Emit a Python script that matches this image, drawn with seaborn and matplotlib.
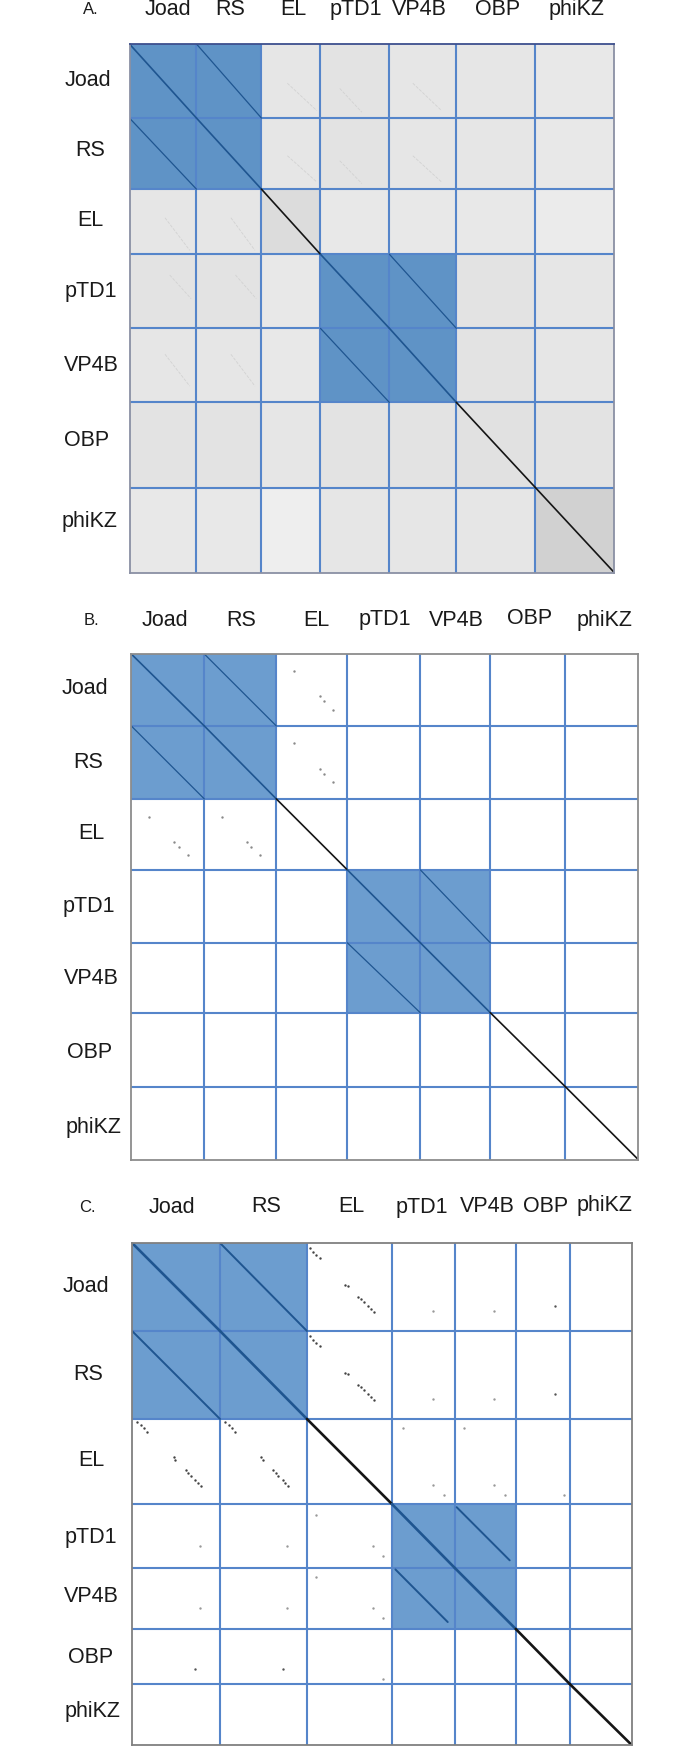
import numpy as np
import matplotlib
matplotlib.use('Agg')
import matplotlib.pyplot as plt
from matplotlib.colors import ListedColormap
import seaborn as sns

phages = ['Joad', 'RS', 'EL', 'pTD1', 'VP4B', 'OBP', 'phiKZ']

# block sizes, one list for columns and one for rows
a_cols = [67, 65, 59, 69, 67, 79, 79]
a_rows = [74, 71, 65, 74, 74, 85, 85]
b_cols = [73, 72, 71, 73, 70, 75, 73]
b_rows = [72, 73, 71, 73, 70, 74, 73]
c_cols = [88, 87, 85, 63, 61, 54, 62]
c_rows = [88, 88, 85, 64, 61, 55, 61]

# background darkness of each block in panel A (0 = white)
a_density = [
    [0.00, 0.00, 0.10, 0.11, 0.10, 0.10, 0.09],
    [0.00, 0.00, 0.10, 0.11, 0.10, 0.10, 0.09],
    [0.10, 0.10, 0.14, 0.09, 0.09, 0.09, 0.08],
    [0.11, 0.11, 0.09, 0.00, 0.00, 0.11, 0.10],
    [0.10, 0.10, 0.09, 0.00, 0.00, 0.11, 0.10],
    [0.11, 0.11, 0.10, 0.11, 0.11, 0.12, 0.11],
    [0.09, 0.09, 0.07, 0.10, 0.10, 0.10, 0.18],
]

# blocks that share one cluster
clusters = [['Joad', 'RS'], ['pTD1', 'VP4B']]

# faint alignments in panel A: first phage, second phage, start and end on each
a_faint_first = ['Joad', 'RS', 'Joad', 'RS', 'Joad', 'RS']
a_faint_second = ['EL', 'EL', 'pTD1', 'pTD1', 'VP4B', 'VP4B']
a_faint_first_span = [(0.53, 0.90), (0.53, 0.90), (0.60, 0.92), (0.60, 0.92), (0.53, 0.90), (0.53, 0.90)]
a_faint_second_span = [(0.44, 0.94), (0.44, 0.94), (0.28, 0.60), (0.28, 0.60), (0.35, 0.78), (0.35, 0.78)]

# matching spots, positions are fractions along each genome
b_joad_el_joad = [0.24, 0.59, 0.655, 0.775]
b_joad_el_el = [0.25, 0.61, 0.675, 0.795]

c_joad_el_joad = [0.06, 0.10, 0.14, 0.17, 0.475, 0.49, 0.61, 0.64, 0.67, 0.72, 0.75, 0.78]
c_joad_el_el = [0.03, 0.07, 0.11, 0.15, 0.45, 0.48, 0.60, 0.635, 0.67, 0.715, 0.75, 0.785]
c_joad_other_joad = [0.775, 0.775, 0.72]
c_joad_other_phage = ['pTD1', 'VP4B', 'OBP']
c_joad_other_pos = [0.66, 0.65, 0.72]
c_el_ptd1_el = [0.11, 0.775, 0.89]
c_el_ptd1_ptd1 = [0.17, 0.66, 0.82]
c_el_vp4b_el = [0.11, 0.775, 0.89]
c_el_vp4b_vp4b = [0.147, 0.65, 0.82]
c_el_obp_el = [0.89]
c_el_obp_obp = [0.90]

sns.set_theme(style='white')
plt.rcParams['font.family'] = ['Liberation Sans', 'DejaVu Sans']

W, H = 700, 1748
fig = plt.figure(figsize=(W / 100, H / 100), dpi=100)

GRID = '#5585ca'
BLACK = '#151515'
DARK_BLUE = '#1f5590'


def px_axes(left, top, right, bottom):
    return fig.add_axes([left / W, 1 - bottom / H, (right - left) / W, (bottom - top) / H])


def label(x, y, s, size=15.5):
    fig.text(x / W, 1 - y / H, s, ha='center', va='center', fontsize=size, color='#1a1a1a')


def draw_panel(ax, cols, rows, density, blue, border, diag_lw, off_lw, off_spans=None):
    """Heatmap of the blocks, with block sizes given by repeating the cells."""
    density = np.repeat(np.repeat(np.array(density), rows, axis=0), cols, axis=1)
    shared = np.zeros((7, 7))
    for group in clusters:
        for p in group:
            for q in group:
                shared[phages.index(p), phages.index(q)] = 1
    shared_big = np.repeat(np.repeat(shared, rows, axis=0), cols, axis=1)

    sns.heatmap(density, ax=ax, cmap='gray_r', vmin=0, vmax=1, cbar=False,
                xticklabels=False, yticklabels=False)
    sns.heatmap(shared_big, ax=ax, mask=shared_big == 0, cmap=ListedColormap([blue]),
                cbar=False, xticklabels=False, yticklabels=False)

    x_edges = np.concatenate([[0], np.cumsum(cols)])
    y_edges = np.concatenate([[0], np.cumsum(rows)])
    ax.vlines(x_edges[1:-1], 0, y_edges[-1], color=GRID, lw=1.5, zorder=3)
    ax.hlines(y_edges[1:-1], 0, x_edges[-1], color=GRID, lw=1.5, zorder=3)

    # alignment lines: every genome on itself, and the members of a cluster
    for i in range(7):
        for j in range(7):
            if i == j:
                color = DARK_BLUE if shared[i, j] else BLACK
                ax.plot(x_edges[j:j + 2], y_edges[i:i + 2], color=color, lw=diag_lw, zorder=4)
            elif shared[i, j]:
                span = (off_spans or {}).get((phages[i], phages[j]), ((0, 1), (0, 1)))
                xs = x_edges[j] + np.array(span[0]) * cols[j]
                ys = y_edges[i] + np.array(span[1]) * rows[i]
                ax.plot(xs, ys, color=DARK_BLUE, lw=off_lw, zorder=4)

    for spine in ax.spines.values():
        spine.set_visible(True)
        spine.set_color(border)
        spine.set_linewidth(1.3)
        spine.set_zorder(5)
    return x_edges, y_edges


def draw_pairs(ax, cols, rows, x_edges, y_edges, first, second, pos1, pos2, color, size):
    """Spots for one pair of genomes, on both sides of the main diagonal."""
    xlim, ylim = ax.get_xlim(), ax.get_ylim()
    i, j = phages.index(first), phages.index(second)
    pos1, pos2 = np.array(pos1), np.array(pos2)
    sns.scatterplot(x=x_edges[j] + pos2 * cols[j], y=y_edges[i] + pos1 * rows[i], ax=ax,
                    color=color, s=size, linewidth=0, zorder=4, legend=False)
    sns.scatterplot(x=x_edges[i] + pos1 * cols[i], y=y_edges[j] + pos2 * rows[j], ax=ax,
                    color=color, s=size, linewidth=0, zorder=4, legend=False)
    ax.set_xlim(xlim)
    ax.set_ylim(ylim)
    ax.set_xlabel('')
    ax.set_ylabel('')


# Panel A
ax_a = px_axes(129.5, 44, 614.3, 572.6)
x_a, y_a = draw_panel(ax_a, a_cols, a_rows, a_density, '#5f93c6', '#8a90a4', 1.2, 0.9)
for first, second, s1, s2 in zip(a_faint_first, a_faint_second, a_faint_first_span, a_faint_second_span):
    i, j = phages.index(first), phages.index(second)
    ax_a.plot(x_a[j] + np.array(s2) * a_cols[j], y_a[i] + np.array(s1) * a_rows[i],
              color='#d2d2d2', lw=0.6, ls='--', zorder=2)
    ax_a.plot(x_a[i] + np.array(s1) * a_cols[i], y_a[j] + np.array(s2) * a_rows[j],
              color='#d2d2d2', lw=0.6, ls='--', zorder=2)
ax_a.spines['top'].set_color('#3d4f8e')

# Panel B
blank = np.zeros((7, 7))
ax_b = px_axes(131.3, 654, 638.4, 1159.7)
x_b, y_b = draw_panel(ax_b, b_cols, b_rows, blank, '#6c9dcf', '#8c8c8c', 1.2, 0.9)
for other in ['Joad', 'RS']:
    draw_pairs(ax_b, b_cols, b_rows, x_b, y_b, other, 'EL', b_joad_el_joad, b_joad_el_el, '#8a8a8a', 3)

# Panel C
c_spans = {('pTD1', 'VP4B'): ((0.03, 0.90), (0.05, 0.88)),
           ('VP4B', 'pTD1'): ((0.056, 0.887), (0.024, 0.886))}
ax_c = px_axes(132.1, 1243, 631.7, 1745)
x_c, y_c = draw_panel(ax_c, c_cols, c_rows, blank, '#6c9dcf', '#808080', 1.9, 1.4, c_spans)
for other in ['Joad', 'RS']:
    draw_pairs(ax_c, c_cols, c_rows, x_c, y_c, other, 'EL', c_joad_el_joad, c_joad_el_el, '#444444', 3)
    for pos, phage, other_pos in zip(c_joad_other_joad, c_joad_other_phage, c_joad_other_pos):
        draw_pairs(ax_c, c_cols, c_rows, x_c, y_c, other, phage, [pos], [other_pos],
                   '#555555' if phage == 'OBP' else '#999999', 3)
draw_pairs(ax_c, c_cols, c_rows, x_c, y_c, 'EL', 'pTD1', c_el_ptd1_el, c_el_ptd1_ptd1, '#999999', 3)
draw_pairs(ax_c, c_cols, c_rows, x_c, y_c, 'EL', 'VP4B', c_el_vp4b_el, c_el_vp4b_vp4b, '#999999', 3)
draw_pairs(ax_c, c_cols, c_rows, x_c, y_c, 'EL', 'OBP', c_el_obp_el, c_el_obp_obp, '#999999', 3)

# Labels sit unevenly in the original, so they are placed one by one
label(91, 9.5, 'A.', 12)
for s, x in zip(phages, [168, 230, 293, 356, 419, 498, 577]):
    label(x, 9.5, s)
for s, x, y in zip(phages, [88, 90, 90, 91, 91, 87, 90], [80, 150.5, 221, 291.5, 365.5, 441, 522]):
    label(x, y, s)

label(91.5, 620, 'B.', 12)
for s, x, y in zip(phages, [165, 241.5, 316, 385, 456, 530, 604.5], [620, 620, 620, 619.5, 620, 619, 620]):
    label(x, y, s)
for s, x, y in zip(phages, [85, 88, 91, 89, 91, 90, 93], [688.5, 763, 833, 906.5, 979, 1052, 1127]):
    label(x, y, s)

label(87, 1207, 'C.', 12)
for s, x, y in zip(phages, [172, 266, 351, 422, 487, 546, 605], [1207.5, 1206, 1206, 1207, 1206, 1206, 1205]):
    label(x, y, s)
for s, x, y in zip(phages, [86, 88, 91.5, 91, 91, 91, 92.5], [1287, 1374.5, 1460.5, 1537, 1597, 1657.5, 1712]):
    label(x, y, s)

fig.savefig('out.png', dpi=100, facecolor='white')
